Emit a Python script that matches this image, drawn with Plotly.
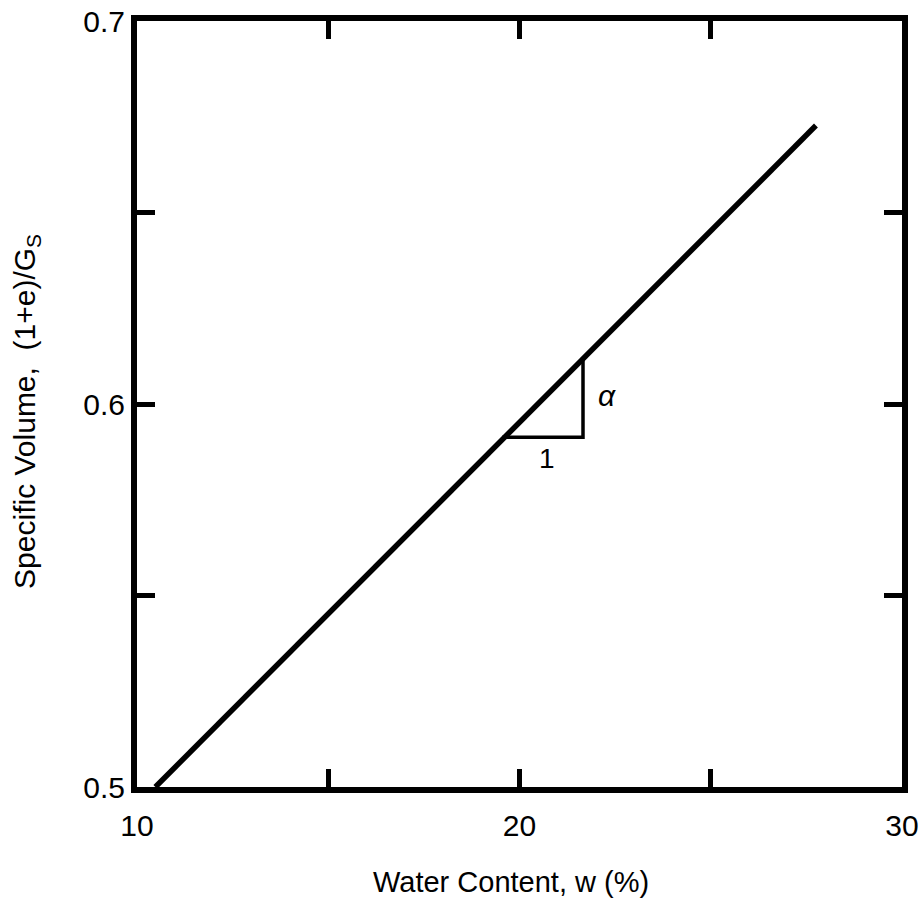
import plotly.graph_objects as go

# data
line_w = [10.48, 27.75]
line_v = [0.5, 0.6727]
tri_w = [19.55, 21.66, 21.66]
tri_v = [0.5913, 0.5913, 0.6118]
x_ticks = [10, 15, 20, 25, 30]
x_tick_labels = ["10", "", "20", "", "30"]
y_ticks = [0.5, 0.55, 0.6, 0.65, 0.7]
y_tick_labels = ["0.5", "", "0.6", "", "0.7"]

FONT = "Liberation Sans, Arial, Helvetica, sans-serif"

fig = go.Figure()
fig.add_trace(go.Scatter(x=line_w, y=line_v, mode="lines",
                         line=dict(color="black", width=5.5), showlegend=False,
                         hoverinfo="skip"))
fig.add_trace(go.Scatter(x=tri_w, y=tri_v, mode="lines",
                         line=dict(color="black", width=3.5), showlegend=False,
                         hoverinfo="skip"))

fig.add_annotation(x=22.28, y=0.6023, text="<i>α</i>", showarrow=False,
                   font=dict(size=30, family=FONT, color="black"))
fig.add_annotation(x=20.72, y=0.5857, text="1", showarrow=False,
                   font=dict(size=28, family=FONT, color="black"))

# axis titles as annotations (placed like the reference)
fig.add_annotation(xref="paper", yref="paper", x=0.489, y=-0.124,
                   text="Water Content, w (%)", showarrow=False,
                   xanchor="center", yanchor="middle",
                   font=dict(size=29, family=FONT, color="black"))
fig.add_annotation(xref="paper", yref="paper", x=-0.1438, y=0.491,
                   text="Specific Volume,  (1+e)/G<sub>S</sub>", showarrow=False,
                   textangle=-90, xanchor="center", yanchor="middle",
                   font=dict(size=30, family=FONT, color="black"))

fig.update_xaxes(range=[10, 30], tickvals=x_ticks, ticktext=x_tick_labels,
                 ticks="inside", ticklen=18, tickwidth=5, tickcolor="black",
                 showline=True, linewidth=6, linecolor="black", mirror="ticks",
                 showgrid=False, zeroline=False, ticklabelstandoff=7,
                 automargin=False, ticklabeloverflow="allow",
                 tickfont=dict(size=30, family=FONT, color="black"))
fig.update_yaxes(range=[0.5, 0.7], tickvals=y_ticks, ticktext=y_tick_labels,
                 ticks="inside", ticklen=18, tickwidth=5, tickcolor="black",
                 showline=True, linewidth=6, linecolor="black", mirror="ticks",
                 showgrid=False, zeroline=False, ticklabelstandoff=0,
                 automargin=False, ticklabeloverflow="allow",
                 tickfont=dict(size=30, family=FONT, color="black"))

fig.update_layout(width=922, height=905, plot_bgcolor="white",
                  paper_bgcolor="white",
                  margin=dict(l=137, r=20, t=21, b=118))

# remove the default page margin so the figure fills the window exactly
fig.write_html("out.html",
               config={"displayModeBar": False},
               post_script="document.body.style.margin='0';"
                           "document.body.style.overflow='hidden';")
